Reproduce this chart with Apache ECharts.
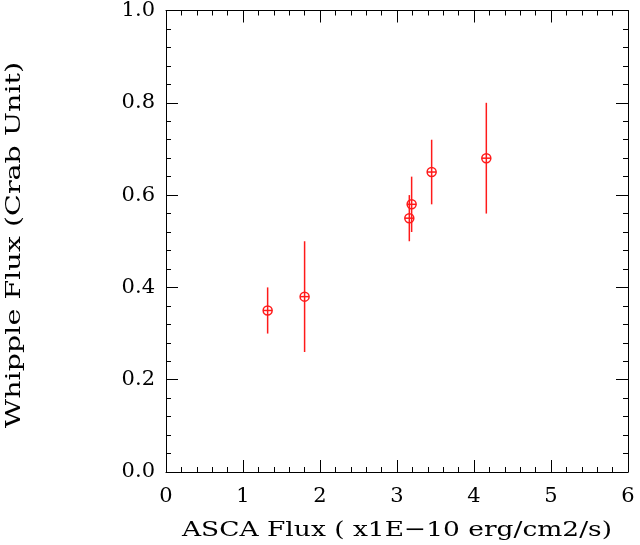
<!DOCTYPE html>
<html>
<head>
<meta charset="utf-8">
<script src="https://cdn.jsdelivr.net/npm/echarts@6/dist/echarts.min.js"></script>
<style>
  html, body { margin: 0; padding: 0; background: #fff; }
  #chart { width: 640px; height: 545px; }
</style>
</head>
<body>
<div id="chart"></div>
<script>
// ASCA flux (x1E-10 erg/cm2/s) vs Whipple flux (Crab units)
const ascaFlux = [1.32, 1.80, 3.16, 3.19, 3.45, 4.16];
const whippleFlux = [0.35, 0.38, 0.55, 0.58, 0.65, 0.68];
const whippleLow = [0.30, 0.26, 0.50, 0.52, 0.58, 0.56];
const whippleHigh = [0.40, 0.50, 0.60, 0.64, 0.72, 0.80];

const xTitle = "ASCA Flux ( x1E\u221210 erg/cm2/s)";
const yTitle = "Whipple Flux (Crab Unit)";

const FONT = "DejaVu Serif";
const RED = "#ff1a1a";

const points = ascaFlux.map((x, i) => [x, whippleFlux[i], whippleLow[i], whippleHigh[i]]);

function renderPoint(params, api) {
  const c = api.coord([api.value(0), api.value(1)]);
  const top = api.coord([api.value(0), api.value(3)]);
  const bot = api.coord([api.value(0), api.value(2)]);
  const r = 4.5;
  const style = { stroke: RED, lineWidth: 1.5, fill: null };
  return {
    type: "group",
    children: [
      { type: "line", shape: { x1: top[0], y1: top[1], x2: bot[0], y2: bot[1] }, style: style },
      { type: "circle", shape: { cx: c[0], cy: c[1], r: r }, style: style },
      { type: "line", shape: { x1: c[0] - r, y1: c[1], x2: c[0] + r, y2: c[1] }, style: style },
    ],
  };
}

const baseTick = { show: true, inside: true, length: 12, lineStyle: { color: "#000", width: 1 } };
const baseMinor = { show: true, splitNumber: 5, length: 5, lineStyle: { color: "#000", width: 1 } };
const axisLine = { show: true, onZero: false, lineStyle: { color: "#000", width: 1 } };

const chart = echarts.init(document.getElementById("chart"));
chart.setOption({
  animation: false,
  backgroundColor: "#fff",
  grid: { left: 166, right: 12, top: 9, bottom: 73 },
  // axis titles drawn as text stretched sideways, like the wide plotting font of the original
  graphic: [
    {
      type: "text", x: 397, y: 531, scaleX: 1.26,
      style: { text: xTitle, font: "21px " + FONT, fill: "#000", textAlign: "center", textVerticalAlign: "middle" },
    },
    {
      type: "text", x: 15, y: 245, rotation: Math.PI / 2, scaleX: 1.36,
      style: { text: yTitle, font: "21px " + FONT, fill: "#000", textAlign: "center", textVerticalAlign: "middle" },
    },
  ],
  xAxis: [
    {
      type: "value", min: 0, max: 6, interval: 1, position: "bottom",
      axisLine: axisLine, axisTick: baseTick, minorTick: baseMinor,
      axisLabel: { fontFamily: FONT, fontSize: 21, color: "#000", margin: 14 },
      splitLine: { show: false },
    },
    {
      type: "value", min: 0, max: 6, interval: 1, position: "top",
      axisLine: axisLine, axisTick: baseTick, minorTick: baseMinor,
      axisLabel: { show: false }, splitLine: { show: false },
    },
  ],
  yAxis: [
    {
      type: "value", min: 0, max: 1, interval: 0.2, position: "left",
      axisLine: axisLine, axisTick: baseTick, minorTick: baseMinor,
      axisLabel: { fontFamily: FONT, fontSize: 21, color: "#000", margin: 11, formatter: (v) => v.toFixed(1) },
      splitLine: { show: false },
    },
    {
      type: "value", min: 0, max: 1, interval: 0.2, position: "right",
      axisLine: axisLine, axisTick: baseTick, minorTick: baseMinor,
      axisLabel: { show: false }, splitLine: { show: false },
    },
  ],
  series: [
    {
      type: "custom",
      renderItem: renderPoint,
      data: points,
      encode: { x: 0, y: [1, 2, 3] },
      clip: false,
    },
  ],
});
</script>
</body>
</html>
